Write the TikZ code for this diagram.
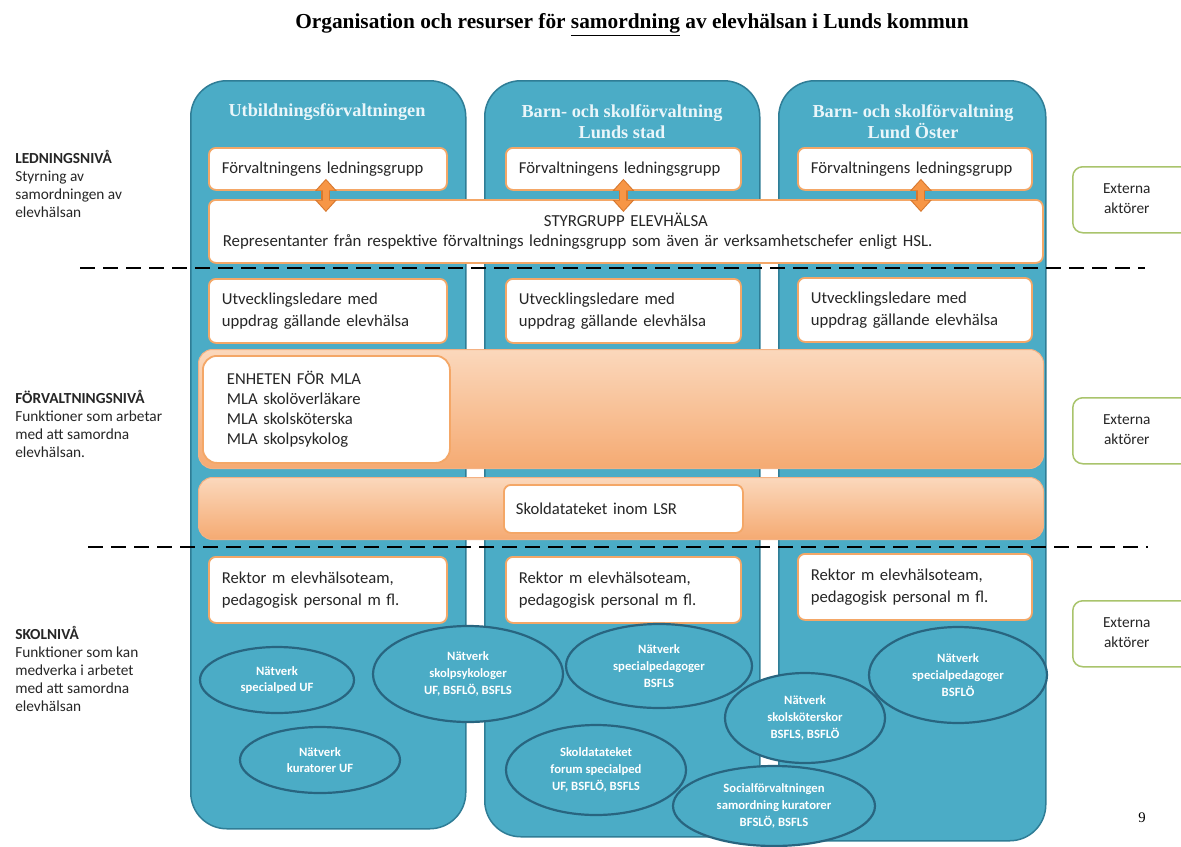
\documentclass[tikz,border=0pt]{standalone}
\usepackage{fontspec}
\setmainfont{Liberation Serif}
\newfontfamily\cf{Carlito}
\usetikzlibrary{shapes.geometric,arrows.meta,calc}
\newdimen\upx \upx=0.75pt
\definecolor{colfill}{HTML}{4BACC6}
\definecolor{colline}{HTML}{2F7D96}
\definecolor{elline}{HTML}{286580}
\definecolor{orline}{HTML}{F4A767}
\definecolor{arrfill}{HTML}{F79646}
\definecolor{arrline}{HTML}{D8782E}
\definecolor{bandtop}{HTML}{FBD8BC}
\definecolor{bandbot}{HTML}{F5AA72}
\definecolor{bandline}{HTML}{F4B183}
\definecolor{extline}{HTML}{A9C46C}
\definecolor{headtxt}{HTML}{EAF6FA}
\definecolor{txt}{HTML}{262626}
\tikzset{
  colbox/.style={draw=colline, fill=colfill, line width=1.5\upx, rounded corners=36\upx, anchor=north west, inner sep=0},
  obox/.style={draw=orline, fill=white, line width=1.8\upx, rounded corners=7\upx, anchor=north west, inner ysep=0, inner xsep=13\upx, align=left, text=txt, font=\cf\fontsize{12.5}{16.5}\selectfont},
  band/.style={draw=bandline, line width=1\upx, top color=bandtop, bottom color=bandbot, rounded corners=14\upx, anchor=north west, inner sep=0},
  ell/.style={ellipse, draw=elline, fill=colfill, line width=2.2\upx, text=white, align=center, inner sep=0, font=\cf\bfseries\fontsize{9.5}{12.5}\selectfont},
  extb/.style={draw=extline, fill=white, line width=1.5\upx, rounded corners=10\upx, anchor=north west, inner sep=0, text=txt, font=\cf\fontsize{11.5}{15}\selectfont},
  lvl/.style={anchor=north west, align=left, inner sep=0, text=txt, font=\cf\fontsize{11.5}{13.5}\selectfont},
  head/.style={text=headtxt, align=center, inner sep=0, font=\bfseries\fontsize{13.7}{15.75}\selectfont},
  dashline/.style={line width=1.95pt, dash pattern=on 11.25pt off 6pt},
  arrb/.style={draw=arrline, line width=6.75pt, {Triangle[length=9pt,width=15.75pt]}-{Triangle[length=9pt,width=15.75pt]}},
  arrf/.style={draw=arrfill, line width=4.5pt, shorten <=1.1pt, shorten >=1.1pt, {Triangle[length=7.5pt,width=12.75pt]}-{Triangle[length=7.5pt,width=12.75pt]}}
}
\begin{document}
\begin{tikzpicture}[x=0.75pt,y=-0.75pt]
\useasboundingbox (0,0) rectangle (1181,846);
\clip (0,0) rectangle (1181,846);
\fill[white] (0,0) rectangle (1181,846);

% title
\node[inner sep=0, font=\bfseries\fontsize{16}{19}\selectfont] (title) at (632,25) {Organisation och resurser för \underline{samordning} av elevhälsan i Lunds kommun};

% columns
\node[colbox, minimum width=275\upx, minimum height=748\upx] (c1) at (190,80) {};
\node[colbox, minimum width=275\upx, minimum height=756\upx] (c2) at (484,80) {};
\node[colbox, minimum width=267\upx, minimum height=760\upx] (c3) at (778,80) {};
\node[head] (h1) at (327,112) {Utbildningsförvaltningen};
\node[head] (h2) at (622,122) {Barn- och skolförvaltning\\Lunds stad};
\node[head] (h3) at (913,122) {Barn- och skolförvaltning\\Lund Öster};

% ledningsniva
\node[obox, minimum width=238\upx, minimum height=42\upx, text width=212\upx] (l1) at (208,147) {Förvaltningens ledningsgrupp};
\node[obox, minimum width=235\upx, minimum height=42\upx, text width=209\upx] (l2) at (505,147) {Förvaltningens ledningsgrupp};
\node[obox, minimum width=234\upx, minimum height=42\upx, text width=208\upx] (l3) at (797,147) {Förvaltningens ledningsgrupp};
\node[obox, minimum width=834\upx, minimum height=63\upx, text width=806\upx, inner xsep=14\upx, font=\cf\fontsize{12.6}{15}\selectfont] (styr) at (208,199) {\makebox[\linewidth][c]{STYRGRUPP ELEVHÄLSA}\\Representanter från respektive förvaltnings ledningsgrupp som även är verksamhetschefer enligt HSL.};

\draw[arrb] ($(l1.south)+(-2,-12)$) -- ($(l1.south |- styr.north)+(-2,13)$);
\draw[arrf] ($(l1.south)+(-2,-12)$) -- ($(l1.south |- styr.north)+(-2,13)$);
\draw[arrb] ($(l2.south)+(0,-12)$) -- ($(l2.south |- styr.north)+(0,13)$);
\draw[arrf] ($(l2.south)+(0,-12)$) -- ($(l2.south |- styr.north)+(0,13)$);
\draw[arrb] ($(l3.south)+(6,-12)$) -- ($(l3.south |- styr.north)+(6,13)$);
\draw[arrf] ($(l3.south)+(6,-12)$) -- ($(l3.south |- styr.north)+(6,13)$);

% dashed lines
\coordinate (d1a) at (80,268);
\coordinate (d1b) at (1145,268);
\coordinate (d2a) at (88,547);
\coordinate (d2b) at (1148,547);
\draw[dashline] (d1a) -- (d1b);
\draw[dashline] (d2a) -- (d2b);

% forvaltningsniva
\node[obox, minimum width=238\upx, minimum height=64\upx, text width=212\upx] (u1) at (208,278) {Utvecklingsledare med\\uppdrag gällande elevhälsa};
\node[obox, minimum width=235\upx, minimum height=64\upx, text width=209\upx] (u2) at (505,278) {Utvecklingsledare med\\uppdrag gällande elevhälsa};
\node[obox, minimum width=234\upx, minimum height=64\upx, text width=208\upx] (u3) at (797,277) {Utvecklingsledare med\\uppdrag gällande elevhälsa};

\node[band, minimum width=845\upx, minimum height=119\upx] (b1) at (198,349) {};
\node[obox, minimum width=247\upx, minimum height=107\upx, text width=199\upx, inner xsep=24\upx, rounded corners=14\upx, font=\cf\fontsize{12.5}{15}\selectfont] (mla) at (202,355) {ENHETEN FÖR MLA\\MLA skolöverläkare\\MLA skolsköterska\\MLA skolpsykolog};

\node[band, minimum width=845\upx, minimum height=62\upx] (b2) at (198,477) {};
\node[obox, minimum width=239\upx, minimum height=48\upx, text width=215\upx, inner xsep=12\upx] (sdt) at (503,484) {Skoldatateket inom LSR};

% skolniva
\node[obox, minimum width=238\upx, minimum height=66\upx, text width=212\upx] (r1) at (208,556) {Rektor m elevhälsoteam,\\pedagogisk personal m fl.};
\node[obox, minimum width=235\upx, minimum height=66\upx, text width=209\upx] (r2) at (505,556) {Rektor m elevhälsoteam,\\pedagogisk personal m fl.};
\node[obox, minimum width=234\upx, minimum height=66\upx, text width=208\upx] (r3) at (797,553) {Rektor m elevhälsoteam,\\pedagogisk personal m fl.};

% ellipses
\node[ell, minimum width=154\upx, minimum height=66\upx] (n1) at (277,680) {Nätverk\\specialped UF};
\node[ell, minimum width=160\upx, minimum height=66\upx] (n2) at (320,760) {Nätverk\\kuratorer UF};
\node[ell, minimum width=190\upx, minimum height=96\upx] (n3) at (468,674) {Nätverk\\skolpsykologer\\UF, BSFLÖ, BSFLS};
\node[ell, minimum width=186\upx, minimum height=84\upx] (n4) at (659,666) {Nätverk\\specialpedagoger\\BSFLS};
\node[ell, minimum width=178\upx, minimum height=96\upx] (n5) at (958,675) {Nätverk\\specialpedagoger\\BSFLÖ};
\node[ell, minimum width=180\upx, minimum height=90\upx] (n6) at (596,770) {Skoldatateket\\forum specialped\\UF, BSFLÖ, BSFLS};
\node[ell, minimum width=160\upx, minimum height=90\upx] (n7) at (805,718) {Nätverk\\skolsköterskor\\BSFLS, BSFLÖ};
\node[ell, minimum width=202\upx, minimum height=80\upx] (n8) at (774,806) {Socialförvaltningen\\samordning kuratorer\\BFSLÖ, BSFLS};

% externa
\node[extb, minimum width=140\upx, minimum height=66\upx] (x1) at (1072,166) {\begin{tabular}{@{}c@{}}Externa\\aktörer\end{tabular}\hspace*{32\upx}};
\node[extb, minimum width=140\upx, minimum height=66\upx] (x2) at (1072,397) {\begin{tabular}{@{}c@{}}Externa\\aktörer\end{tabular}\hspace*{32\upx}};
\node[extb, minimum width=140\upx, minimum height=66\upx] (x3) at (1072,600) {\begin{tabular}{@{}c@{}}Externa\\aktörer\end{tabular}\hspace*{32\upx}};

% level labels
\node[lvl] (lv1) at (15,150) {\textbf{LEDNINGSNIVÅ}\\Styrning av\\samordningen av\\elevhälsan};
\node[lvl] (lv2) at (15,390) {\textbf{FÖRVALTNINGSNIVÅ}\\Funktioner som arbetar\\med att samordna\\elevhälsan.};
\node[lvl] (lv3) at (15,626) {\textbf{SKOLNIVÅ}\\Funktioner som kan\\medverka i arbetet\\med att samordna\\elevhälsan};

% page number
\node[inner sep=0, font=\fontsize{11}{13}\selectfont] (pg) at (1142,818) {9};
\end{tikzpicture}
\end{document}
